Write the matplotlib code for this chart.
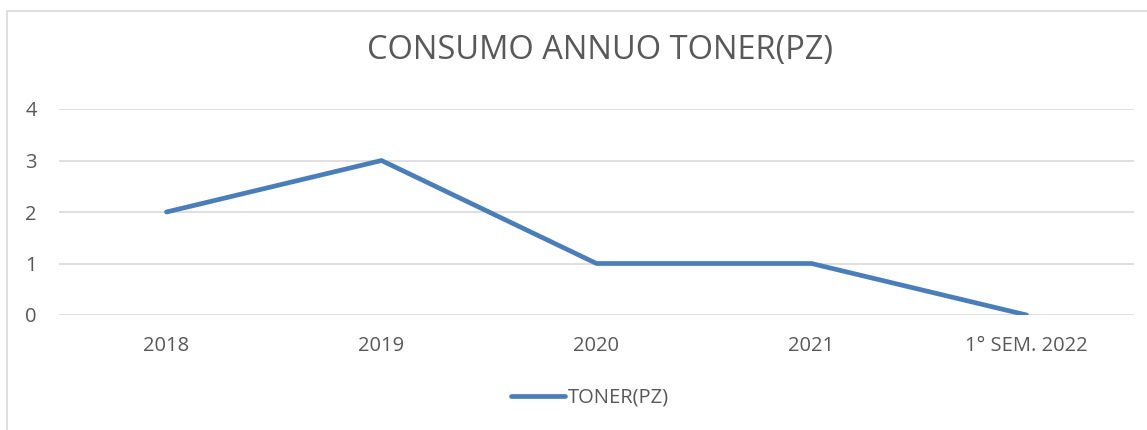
import matplotlib.pyplot as plt
from matplotlib.patches import Rectangle

categories = ["2018", "2019", "2020", "2021", "1° SEM. 2022"]
toner = [2, 3, 1, 1, 0]

plt.rcParams['font.family'] = ['Open Sans', 'DejaVu Sans']

W, H = 1147, 430
fig = plt.figure(figsize=(W / 100, H / 100), dpi=100)
ax = fig.add_axes([59 / W, 1 - 315 / H, (1134 - 59) / W, (315 - 109) / H])

# outer chart frame (only left/top visible in the crop)
fig.patches.append(Rectangle((7.5 / W, -0.1), 1.2, 1.1 - 11.5 / H,
                             transform=fig.transFigure, fill=False,
                             edgecolor='#d9d9d9', linewidth=1.2))

x = list(range(len(categories)))
ax.plot(x, toner, color='#4a7ebb', linewidth=3.4, solid_capstyle='round',
        solid_joinstyle='round', label='TONER(PZ)', zorder=3)

ax.set_xlim(-0.5, len(categories) - 0.5)
ax.set_ylim(0, 4)
ax.set_yticks([0, 1, 2, 3, 4])
ax.set_xticks(x)
ax.set_xticklabels(categories)
ax.yaxis.grid(True, color='#d9d9d9', linewidth=1.2)
ax.set_axisbelow(True)
for s in ax.spines.values():
    s.set_visible(False)
ax.tick_params(length=0, labelsize=14.5, colors='#595959')
ax.tick_params(axis='y', pad=16)
ax.tick_params(axis='x', pad=15)

fig.text(600 / W, 1 - 50 / H, "CONSUMO ANNUO TONER(PZ)", ha='center', va='center',
         fontsize=23.5, color='#595959')

leg = fig.legend(loc='center', bbox_to_anchor=(590 / W, 1 - 398 / H), frameon=False,
                 fontsize=14.5, handlelength=2.7, handletextpad=0.15)
for t in leg.get_texts():
    t.set_color('#595959')

fig.savefig('out.png', dpi=100)
